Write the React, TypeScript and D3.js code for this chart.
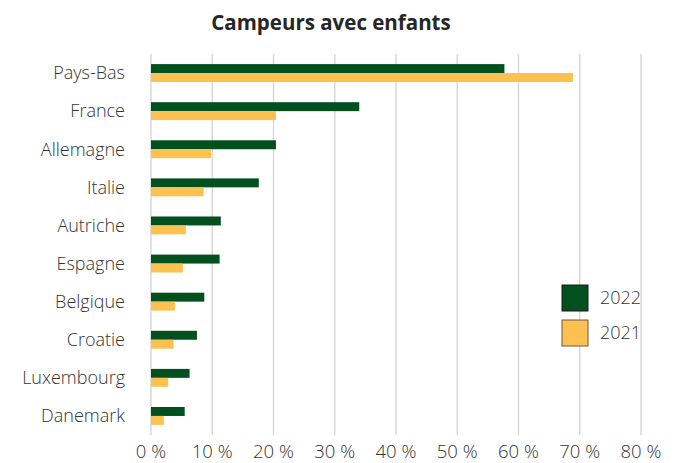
import React, { useEffect, useRef } from "react";
import * as d3 from "d3";

const countries = [
  "Pays-Bas",
  "France",
  "Allemagne",
  "Italie",
  "Autriche",
  "Espagne",
  "Belgique",
  "Croatie",
  "Luxembourg",
  "Danemark",
];
const values2022 = [57.7, 34.0, 20.4, 17.6, 11.4, 11.2, 8.7, 7.5, 6.3, 5.5];
const values2021 = [68.9, 20.4, 9.8, 8.6, 5.7, 5.2, 3.9, 3.7, 2.8, 2.1];
const xTicks = [0, 10, 20, 30, 40, 50, 60, 70, 80];
const seriesNames = ["2022", "2021"];
const seriesColors = ["#02501d", "#fcc150"];

const App: React.FC = () => {
  const svgRef = useRef<SVGSVGElement>(null);

  useEffect(() => {
    if (!svgRef.current) return;
    const width = 681;
    const height = 463;
    const marginLeft = 151;
    const marginRight = 40;
    const marginTop = 54;
    const marginBottom = 28;

    const svg = d3.select(svgRef.current);
    svg.selectAll("*").remove();
    svg.attr("viewBox", `0 0 ${width} ${height}`);

    const font = "'Open Sans', 'Segoe UI', sans-serif";
    const textColor = "#333333";

    const x = d3
      .scaleLinear()
      .domain([0, 80])
      .range([marginLeft, width - marginRight]);

    const y = d3
      .scaleBand<string>()
      .domain(countries)
      .range([marginTop, height - marginBottom])
      .paddingInner(0.53)
      .paddingOuter(0.265);

    const sub = d3
      .scaleBand<string>()
      .domain(seriesNames)
      .range([0, y.bandwidth()]);

    // title
    svg
      .append("text")
      .attr("x", 331)
      .attr("y", 30)
      .attr("text-anchor", "middle")
      .attr("font-family", font)
      .attr("font-weight", "bold")
      .attr("font-size", 20.5)
      .attr("fill", "#262626")
      .text("Campeurs avec enfants");

    // grid
    svg
      .append("g")
      .selectAll("line")
      .data(xTicks)
      .join("line")
      .attr("x1", (d) => x(d))
      .attr("x2", (d) => x(d))
      .attr("y1", marginTop)
      .attr("y2", height - marginBottom)
      .attr("stroke", "#d9d9d9")
      .attr("stroke-width", 1.5);

    // x tick labels
    svg
      .append("g")
      .selectAll("text")
      .data(xTicks)
      .join("text")
      .attr("x", (d) => x(d))
      .attr("y", height - 5)
      .attr("text-anchor", "middle")
      .attr("font-family", font)
      .attr("font-weight", 300)
      .attr("font-size", 18.5)
      .attr("fill", textColor)
      .text((d) => `${d} %`);

    // category labels
    svg
      .append("g")
      .selectAll("text")
      .data(countries)
      .join("text")
      .attr("x", 125)
      .attr("y", (d) => y(d)! + y.bandwidth() / 2)
      .attr("dy", "0.35em")
      .attr("text-anchor", "end")
      .attr("font-family", font)
      .attr("font-weight", 300)
      .attr("font-size", 18)
      .attr("fill", textColor)
      .text((d) => d);

    const series = [values2022, values2021];
    series.forEach((vals, si) => {
      svg
        .append("g")
        .selectAll("rect")
        .data(vals)
        .join("rect")
        .attr("x", x(0))
        .attr("y", (_, i) => y(countries[i])! + sub(seriesNames[si])!)
        .attr("width", (d) => x(d) - x(0))
        .attr("height", sub.bandwidth())
        .attr("fill", seriesColors[si]);
    });

    // legend
    const legend = svg.append("g");
    seriesNames.forEach((name, i) => {
      const ly = 285 + i * 35;
      legend
        .append("rect")
        .attr("x", 562)
        .attr("y", ly)
        .attr("width", 26)
        .attr("height", 26)
        .attr("fill", seriesColors[i])
        .attr("stroke", i === 0 ? "#1a1a1a" : "#6b5a3a")
        .attr("stroke-width", 1);
      legend
        .append("text")
        .attr("x", 600)
        .attr("y", ly + 13)
        .attr("dy", "0.35em")
        .attr("font-family", font)
        .attr("font-weight", 300)
        .attr("font-size", 18)
        .attr("fill", textColor)
        .text(name);
    });
  }, []);

  return (
    <svg
      ref={svgRef}
      width={681}
      height={463}
      style={{ position: "absolute", left: 0, top: 0, background: "#fff" }}
    />
  );
};

export default App;
